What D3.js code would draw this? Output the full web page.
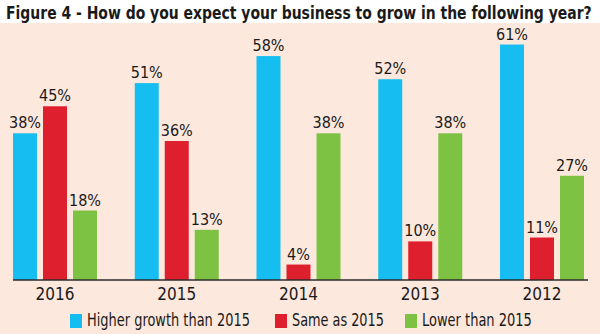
<!DOCTYPE html>
<html><head><meta charset="utf-8">
<script src="https://cdn.jsdelivr.net/npm/d3@7"></script>
<style>html,body{margin:0;padding:0;background:#fff;}svg{display:block;}</style>
</head><body>
<svg id="chart" width="600" height="334"></svg>
<script>
const years = ["2016", "2015", "2014", "2013", "2012"];
const seriesNames = ["Higher growth than 2015", "Same as 2015", "Lower than 2015"];
const higher = [38, 51, 58, 52, 61];
const same = [45, 36, 4, 10, 11];
const lower = [18, 13, 38, 38, 27];
const title = "Figure 4 - How do you expect your business to grow in the following year?";

const colors = ["#15bdf0", "#de1f2d", "#7dc242"];
const seriesValues = [higher, same, lower];
const font = "'Liberation Sans Narrow','DejaVu Sans Condensed','Roboto Condensed',sans-serif";

const svg = d3.select("#chart");
svg.append("rect").attr("x",0).attr("y",0).attr("width",600).attr("height",334).attr("fill","#fff");
svg.append("rect").attr("x",0).attr("y",23).attr("width",600).attr("height",311).attr("fill","#fde8dd");

// fit a text horizontally to a target width by scaling it (keeps bounding box honest)
function fitText(sel, x, yPos, targetW) {
  const w = sel.node().getComputedTextLength();
  const k = w > 0 ? targetW / w : 1;
  sel.attr("x", 0).attr("y", 0).attr("transform", `translate(${x},${yPos}) scale(${k},1)`);
}

const titleText = svg.append("text").attr("font-family",font).attr("font-weight","bold")
  .attr("font-size",18).attr("fill","#1a1a1a").text(title);
fitText(titleText, 6, 19, 586);

const x0 = d3.scaleBand().domain(years).range([13, 584]).paddingInner(0.31).paddingOuter(0);
const x1 = d3.scaleBand().domain(seriesNames).range([0, x0.bandwidth()]).paddingInner(0.2).paddingOuter(0);
const y = d3.scaleLinear().domain([0, 61]).range([280, 44.5]);

const data = [];
years.forEach((yr, i) => seriesNames.forEach((s, j) => data.push({yr, s, j, v: seriesValues[j][i]})));

const g = svg.append("g");
g.selectAll("rect.bar").data(data).join("rect").attr("class","bar")
  .attr("x", d => x0(d.yr) + x1(d.s)).attr("width", x1.bandwidth())
  .attr("y", d => y(d.v)).attr("height", d => y(0) - y(d.v))
  .attr("fill", d => colors[d.j]);

g.selectAll("text.val").data(data).join("text").attr("class","val")
  .attr("x", d => x0(d.yr) + x1(d.s) + x1.bandwidth()/2)
  .attr("y", d => y(d.v) - 5)
  .attr("text-anchor","middle").attr("font-family",font).attr("font-size",16).attr("fill","#1a1a1a")
  .text(d => d.v + "%");

const axis = svg.append("g").attr("transform","translate(0,280)")
  .call(d3.axisBottom(x0).tickSize(0).tickPadding(8));
axis.select(".domain").attr("d","M13,0H588").attr("stroke","#2b2b2b").attr("stroke-width",1.5);
axis.selectAll("text").attr("font-family",font).attr("font-size",17).attr("fill","#1a1a1a");

const legendX = [70, 275, 405];
const legendW = [163, 92, 110];
const lg = svg.append("g");
seriesNames.forEach((s, j) => {
  lg.append("rect").attr("x",legendX[j]).attr("y",314).attr("width",12).attr("height",14).attr("fill",colors[j]);
  const t = lg.append("text").attr("font-family",font).attr("font-size",17)
    .attr("fill","#1a1a1a").text(s);
  fitText(t, legendX[j]+17, 326, legendW[j]);
});
</script>
</body></html>
